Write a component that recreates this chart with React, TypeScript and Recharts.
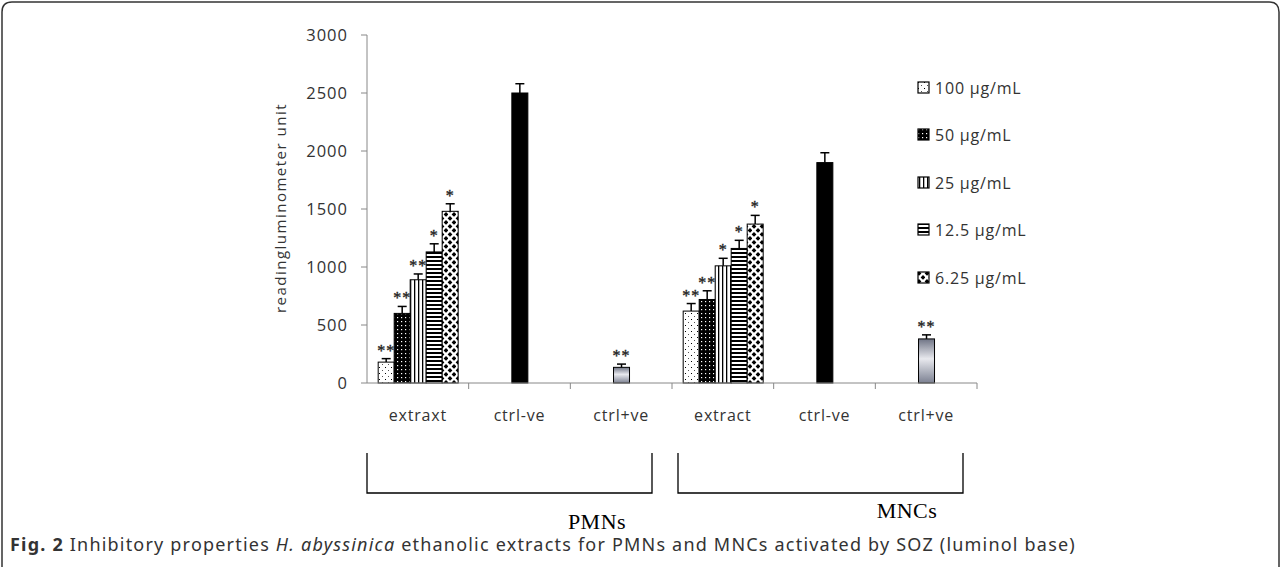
import React from 'react';
import { BarChart, Bar, XAxis, YAxis } from 'recharts';

const categories = ['extraxt', 'ctrl-ve', 'ctrl+ve', 'extract', 'ctrl-ve', 'ctrl+ve'];

const v100 = [180, null, null, 620, null, null];
const e100 = [30, null, null, 65, null, null];
const s100 = ['**', '', '', '**', '', ''];

const v50 = [600, null, null, 720, null, null];
const e50 = [60, null, null, 75, null, null];
const s50 = ['**', '', '', '**', '', ''];

const v25 = [890, null, null, 1010, null, null];
const e25 = [50, null, null, 65, null, null];
const s25 = ['**', '', '', '*', '', ''];

const v12 = [1130, null, null, 1160, null, null];
const e12 = [70, null, null, 70, null, null];
const s12 = ['*', '', '', '*', '', ''];

const v6 = [1480, null, null, 1370, null, null];
const e6 = [65, null, null, 75, null, null];
const s6 = ['*', '', '', '*', '', ''];

const ctrlNeg = [null, 2500, null, null, 1900, null];
const eNeg = [null, 80, null, null, 85, null];
const sNeg = ['', '', '', '', '', ''];

const ctrlPos = [null, null, 135, null, null, 380];
const ePos = [null, null, 28, null, null, 35];
const sPos = ['', '', '**', '', '', '**'];

const yTicks = [0, 500, 1000, 1500, 2000, 2500, 3000];
const legendLabels = ['100 µg/mL', '50 µg/mL', '25 µg/mL', '12.5 µg/mL', '6.25 µg/mL'];
const legendFills = ['url(#p100)', 'url(#p50)', 'url(#p25)', 'url(#p12)', 'url(#p6)'];
const groupLabels = ['PMNs', 'MNCs'];
const yLabel = 'readingluminometer unit';

const data = categories.map((name, i) => ({
  name,
  v100: v100[i], e100: e100[i], s100: s100[i],
  v50: v50[i], e50: e50[i], s50: s50[i],
  v25: v25[i], e25: e25[i], s25: s25[i],
  v12: v12[i], e12: e12[i], s12: s12[i],
  v6: v6[i], e6: e6[i], s6: s6[i],
  ctrlNeg: ctrlNeg[i], eNeg: eNeg[i], sNeg: sNeg[i],
  ctrlPos: ctrlPos[i], ePos: ePos[i], sPos: sPos[i],
}));

const FONT = '"Open Sans", sans-serif';

const makeShape = (fill: string, valKey: string, errKey: string, starKey: string) => (props: any) => {
  const { x, y, width, height, payload } = props;
  const val = payload ? payload[valKey] : null;
  if (val == null || !height || height <= 0) return <g />;
  const k = height / val;
  const err = payload[errKey] || 0;
  const cx = x + width / 2;
  const yTop = y - err * k;
  const star = payload[starKey];
  return (
    <g>
      <rect x={x} y={y} width={width} height={height} fill={fill} stroke="#000" strokeWidth={1} />
      <line x1={cx} x2={cx} y1={y} y2={yTop} stroke="#000" strokeWidth={1.5} />
      <line x1={cx - 4.5} x2={cx + 4.5} y1={yTop} y2={yTop} stroke="#000" strokeWidth={1.5} />
      {star ? (
        <text
          x={cx}
          y={yTop - 3}
          textAnchor="middle"
          fontFamily='"Liberation Serif", serif'
          fontSize={16}
          letterSpacing={1}
          fill="#222"
          stroke="#222"
          strokeWidth={0.35}
        >
          {star}
        </text>
      ) : null}
    </g>
  );
};

const CatTick = (props: any) => {
  const { x, y, payload, width, visibleTicksCount } = props;
  const band = width && visibleTicksCount ? width / visibleTicksCount : 101.7;
  return (
    <g>
      <line x1={x + band / 2} x2={x + band / 2} y1={y} y2={y + 6} stroke="#888" strokeWidth={1} />
      <text x={x} y={y + 38} textAnchor="middle" fontFamily={FONT} fontSize={16} letterSpacing={0.8} fill="#333">
        {payload.value}
      </text>
    </g>
  );
};

export default function App() {
  return (
    <div style={{ position: 'absolute', left: 0, top: 0, width: 1281, height: 567, background: '#fff', overflow: 'hidden' }}>
      <svg width={0} height={0} style={{ position: 'absolute' }}>
        <defs>
          <pattern id="p100" patternUnits="userSpaceOnUse" width={6} height={6}>
            <rect width={6} height={6} fill="#fff" />
            <rect x={1} y={1} width={1} height={1} fill="#000" />
            <rect x={4} y={4} width={1} height={1} fill="#555" />
          </pattern>
          <pattern id="p50" patternUnits="userSpaceOnUse" width={4} height={4}>
            <rect width={4} height={4} fill="#000" />
            <rect x={1} y={1} width={1.2} height={1.2} fill="#fff" />
          </pattern>
          <pattern id="p25" patternUnits="userSpaceOnUse" width={4} height={4}>
            <rect width={4} height={4} fill="#fff" />
            <rect x={2} y={0} width={1.3} height={4} fill="#000" />
          </pattern>
          <pattern id="p12" patternUnits="userSpaceOnUse" width={4} height={4}>
            <rect width={4} height={4} fill="#fff" />
            <rect x={0} y={0} width={4} height={2} fill="#000" />
          </pattern>
          <pattern id="p6" patternUnits="userSpaceOnUse" width={8} height={8}>
            <rect width={8} height={8} fill="#fff" />
            <polygon points="2,0 4.4,2.4 2,4.8 -0.4,2.4" fill="#000" />
            <polygon points="6,4 8.4,6.4 6,8.8 3.6,6.4" fill="#000" />
            <polygon points="6,-4 8.4,-1.6 6,0.8 3.6,-1.6" fill="#000" />
            <polygon points="10,0 12.4,2.4 10,4.8 7.6,2.4" fill="#000" />
          </pattern>
          <linearGradient id="gPos" x1="0" y1="0" x2="0" y2="1">
            <stop offset="0%" stopColor="#6f7485" />
            <stop offset="45%" stopColor="#e8e9ee" />
            <stop offset="100%" stopColor="#7c8192" />
          </linearGradient>
        </defs>
      </svg>

      <BarChart
        width={1281}
        height={567}
        data={data}
        margin={{ top: 35, right: 304, bottom: 154, left: 307 }}
        barCategoryGap="11%"
        barGap={0}
      >
        <XAxis
          dataKey="name"
          height={30}
          interval={0}
          tickSize={0}
          tickMargin={0}
          tickLine={false}
          axisLine={{ stroke: '#888' }}
          tick={<CatTick />}
        />
        <YAxis
          width={60}
          domain={[0, 3000]}
          ticks={yTicks}
          interval={0}
          tickSize={6}
          tickMargin={13}
          axisLine={{ stroke: '#888' }}
          tickLine={{ stroke: '#888' }}
          tick={{ fill: '#333', fontSize: 16.5, fontFamily: FONT, letterSpacing: 1 }}
        />
        <Bar dataKey="v100" stackId="a" isAnimationActive={false} shape={makeShape('url(#p100)', 'v100', 'e100', 's100')} />
        <Bar dataKey="v50" stackId="b" isAnimationActive={false} shape={makeShape('url(#p50)', 'v50', 'e50', 's50')} />
        <Bar dataKey="v25" stackId="c" isAnimationActive={false} shape={makeShape('url(#p25)', 'v25', 'e25', 's25')} />
        <Bar dataKey="ctrlNeg" stackId="c" isAnimationActive={false} shape={makeShape('#000', 'ctrlNeg', 'eNeg', 'sNeg')} />
        <Bar dataKey="ctrlPos" stackId="c" isAnimationActive={false} shape={makeShape('url(#gPos)', 'ctrlPos', 'ePos', 'sPos')} />
        <Bar dataKey="v12" stackId="d" isAnimationActive={false} shape={makeShape('url(#p12)', 'v12', 'e12', 's12')} />
        <Bar dataKey="v6" stackId="e" isAnimationActive={false} shape={makeShape('url(#p6)', 'v6', 'e6', 's6')} />
      </BarChart>

      <div style={{ position: 'absolute', left: 917, top: 64, fontFamily: FONT, fontSize: 16, color: '#333', letterSpacing: 0.8 }}>
        {legendLabels.map((lab, i) => (
          <div key={lab} style={{ display: 'flex', alignItems: 'center', height: 47.5, whiteSpace: 'nowrap' }}>
            <svg width={14} height={14} style={{ marginRight: 4 }}>
              <rect x={1} y={1} width={11} height={11} fill={legendFills[i]} stroke="#000" strokeWidth={1.2} />
            </svg>
            <span>{lab}</span>
          </div>
        ))}
      </div>

      <svg width={1281} height={567} style={{ position: 'absolute', left: 0, top: 0, pointerEvents: 'none' }}>
        <path d="M2,600 L2,12 Q2,2 12,2 L1269,2 Q1279,2 1279,12 L1279,600" fill="none" stroke="#333" strokeWidth={1.5} />
        <text
          transform="translate(286,208) rotate(-90)"
          textAnchor="middle"
          fontFamily={FONT}
          fontSize={15}
          letterSpacing={1.5}
          fill="#333"
        >
          {yLabel}
        </text>
        <path d="M367,453 L367,493 L652,493 L652,453" fill="none" stroke="#000" strokeWidth={1.3} />
        <path d="M678,453 L678,493 L963,493 L963,453" fill="none" stroke="#000" strokeWidth={1.3} />
        <text x={597} y={529} textAnchor="middle" fontFamily='"Liberation Serif", serif' fontSize={22} letterSpacing={0.5} fill="#000">
          {groupLabels[0]}
        </text>
        <text x={907} y={518} textAnchor="middle" fontFamily='"Liberation Serif", serif' fontSize={22} letterSpacing={0.5} fill="#000">
          {groupLabels[1]}
        </text>
        <text x={10} y={551} fontFamily='"Noto Sans", sans-serif' fontSize={18} letterSpacing={1.2} fill="#333">
          <tspan fontWeight="bold">Fig. 2</tspan>
          <tspan> Inhibitory properties </tspan>
          <tspan fontStyle="italic">H. abyssinica</tspan>
          <tspan> ethanolic extracts for PMNs and MNCs activated by SOZ (luminol base)</tspan>
        </text>
      </svg>
    </div>
  );
}
